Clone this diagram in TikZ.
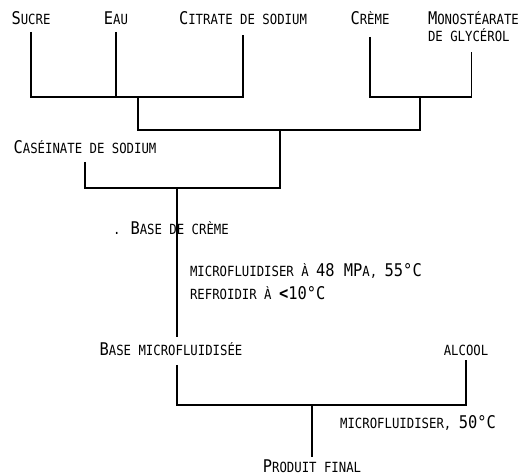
\documentclass[tikz,border=0pt]{standalone}
\usepackage{fontspec}
\setmainfont{DejaVu Sans Mono}[FakeStretch=0.88]
\usetikzlibrary{calc}
\newcommand\Bg[1]{{\fontsize{17.5}{18}\selectfont #1}}
\begin{document}
\begin{tikzpicture}[x=1pt,y=1pt,
  lbl/.style={inner sep=0pt, outer sep=0pt, anchor=base, font=\fontsize{14}{17}\selectfont},
  flow/.style={line width=1.4pt, black}]
\useasboundingbox (0,0) rectangle (531,476);
% labels
\node[lbl] (sucre) at (31,451) {\Bg{S}UCRE};
\node[lbl] (eau) at (116,451) {\Bg{E}AU};
\node[lbl] (citrate) at (243,451) {\Bg{C}ITRATE DE SODIUM};
\node[lbl] (creme) at (370,451) {\Bg{C}RÈME};
\node[lbl, anchor=south west, align=left] (mono) at (428,434) {\Bg{M}ONOSTÉARATE\\DE GLYCÉROL};
\node[lbl] (caseinate) at (85,322) {\Bg{C}ASÉINATE DE SODIUM};
\node[lbl] (basecreme) at (171,241) {. \Bg{B}ASE DE CRÈME};
\node[lbl, anchor=base west] (micro1) at (190,199) {MICROFLUIDISER À \Bg{48 MP}A, \Bg{55°C}};
\node[lbl, anchor=base west] (refroid) at (190,176) {REFROIDIR À \Bg{\bfseries<}\Bg{10°C}};
\node[lbl] (basemicro) at (171,120) {\Bg{B}ASE MICROFLUIDISÉE};
\node[lbl] (alcool) at (466,120) {ALCOOL};
\node[lbl] (micro2) at (418,47) {MICROFLUIDISER, \Bg{50°C}};
\node[lbl] (produit) at (312,3) {\Bg{P}RODUIT FINAL};
% junctions
\coordinate (ja) at (138,379);
\coordinate (jb) at (420,379);
\coordinate (jc) at (280,346);
\coordinate (jd) at (177,288);
\coordinate (je) at (312,71);
% connectors
\draw[flow] ($(sucre.base)+(0,-7)$) |- (ja) -| ($(citrate.base)+(0,-10)$);
\draw[flow] ($(eau.base)+(0,-7)$) -- (eau.base |- ja);
\draw[flow] ($(creme.base)+(0,-12)$) |- (jb) -| ($(mono.south)+(-2,-10)$);
\draw[flow] (ja) |- (jc) -| (jb);
\draw[flow] ($(caseinate.base)+(0,-8)$) |- (jd) -| (jc);
\draw[flow] (jd) -- ($(jd |- basemicro.base)+(0,19)$);
\draw[flow] ($(jd |- basemicro.base)+(0,-9)$) |- (je) -| ($(alcool.base)+(0,-4)$);
\draw[flow] (je) -- ($(produit.base)+(0,16)$);
\end{tikzpicture}
\end{document}
